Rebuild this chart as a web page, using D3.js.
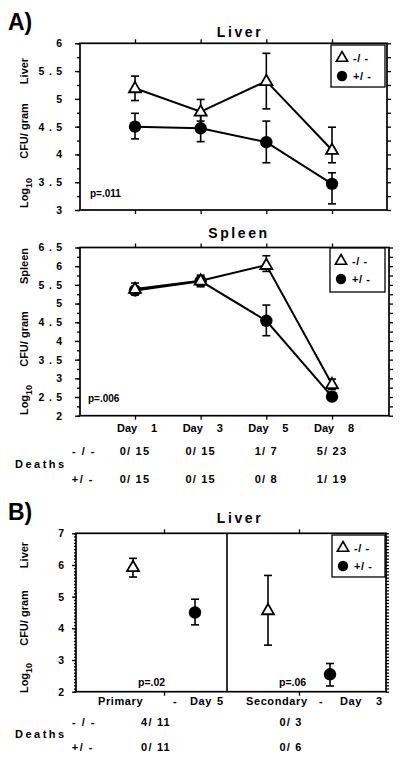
<!DOCTYPE html>
<html><head><meta charset="utf-8">
<script src="https://cdn.jsdelivr.net/npm/d3@7"></script>
<style>
body{margin:0;background:#fff;}
svg text{font-family:"Liberation Sans",Arial,sans-serif;font-weight:bold;fill:#000;}
</style></head><body>
<svg id="c" width="400" height="761"></svg>
<script>
// ---------- data ----------
const days = ["Day 1","Day 3","Day 5","Day 8"];
const dayWords = ["Day","Day","Day","Day"];
const dayNums = ["1","3","5","8"];

const liverKO      = [5.19, 4.77, 5.32, 4.08];
const liverKOLow   = [4.97, 4.60, 4.82, 3.85];
const liverKOHigh  = [5.41, 4.99, 5.82, 4.49];
const liverHet     = [4.50, 4.47, 4.22, 3.47];
const liverHetLow  = [4.28, 4.23, 3.85, 3.11];
const liverHetHigh = [4.74, 4.71, 4.60, 3.67];

const spleenKO      = [5.39, 5.61, 6.03, 2.84];
const spleenKOLow   = [5.23, 5.45, 5.86, 2.70];
const spleenKOHigh  = [5.55, 5.76, 6.28, 2.98];
const spleenHet     = [5.35, 5.60, 4.54, 2.51];
const spleenHetLow  = [5.26, 5.50, 4.14, 2.42];
const spleenHetHigh = [5.45, 5.70, 4.96, 2.62];

const deathsKO  = ["0/ 15","0/ 15","1/ 7","5/ 23"];
const deathsHet = ["0/ 15","0/ 15","0/ 8","1/ 19"];

const infGroups = ["Primary","Secondary"];
const infGroupLabels = [["Primary","-","Day","5"],["Secondary","-","Day","3"]];
const infKO      = [5.93, 4.57];
const infKOLow   = [5.62, 3.47];
const infKOHigh  = [6.21, 5.67];
const infHet     = [4.50, 2.55];
const infHetLow  = [4.11, 2.18];
const infHetHigh = [4.92, 2.89];
const infDeathsKO  = ["4/ 11","0/ 3"];
const infDeathsHet = ["0/ 11","0/ 6"];
const infP = ["p=.02","p=.06"];

const genotypes = ["-/ -","+/ -"];
const rowLabels = ["- / -","+/ -"];

const liverTicks  = [3,3.5,4,4.5,5,5.5,6];
const spleenTicks = [2,2.5,3,3.5,4,4.5,5,5.5,6,6.5];
const infTicks    = [2,3,4,5,6,7];

// ---------- drawing ----------
const svg = d3.select("#c");
const fmt = d => String(d).split("").join(" ");

function axes(p){
  const g = svg.append("g");
  const y = p.y;
  const la = g.append("g").attr("transform",`translate(${p.left},0)`)
    .call(d3.axisLeft(y).tickValues(p.ticks).tickFormat(fmt).tickSize(p.majLen).tickSizeOuter(0).tickPadding(p.pad));
  la.selectAll("text").attr("font-family",null).attr("font-size",null)
    .style("font-size","10.5px").style("letter-spacing","0.8px").style("white-space","pre");
  g.append("g").attr("transform",`translate(${p.left},0)`)
    .call(d3.axisLeft(y).tickValues(d3.range(p.domain[0],p.domain[1]+1e-6,p.minor)).tickFormat("").tickSize(p.minLen).tickSizeOuter(0));
  g.append("g").attr("transform",`translate(${p.right},0)`)
    .call(d3.axisRight(y).tickValues(d3.range(p.domain[0],p.domain[1]+1e-6,p.rminor)).tickFormat("").tickSize(p.rLen).tickSizeOuter(0));
  g.append("g").attr("transform",`translate(0,${p.top})`)
    .call(d3.axisTop(p.xt).tickFormat("").tickSize(4).tickSizeOuter(0));
  g.append("g").attr("transform",`translate(0,${p.bottom})`)
    .call(d3.axisBottom(p.xt).tickFormat("").tickSize(4).tickSizeOuter(0));
  g.selectAll(".domain").remove();
  g.selectAll(".tick line").attr("stroke","#000").attr("stroke-width",1.3);
  g.append("rect").attr("x",p.left).attr("y",p.top).attr("width",p.right-p.left).attr("height",p.bottom-p.top)
    .attr("fill","none").attr("stroke","#000").attr("stroke-width",1.7);
}

function errbars(g, xs, lo, hi, y){
  const cap = 4;
  xs.forEach((x,i)=>{
    g.append("line").attr("x1",x).attr("x2",x).attr("y1",y(lo[i])).attr("y2",y(hi[i]));
    g.append("line").attr("x1",x-cap).attr("x2",x+cap).attr("y1",y(lo[i])).attr("y2",y(lo[i]));
    g.append("line").attr("x1",x-cap).attr("x2",x+cap).attr("y1",y(hi[i])).attr("y2",y(hi[i]));
  });
  g.selectAll("line").attr("stroke","#000").attr("stroke-width",1.6);
}

const tri = d3.symbol(d3.symbolTriangle, 62)();
const triSmall = d3.symbol(d3.symbolTriangle, 55)();

function markers(g, xs, ko, het, y){
  xs.het.forEach((x,i)=> g.append("circle").attr("cx",x).attr("cy",y(het[i])).attr("r",6.2).attr("fill","#000"));
  xs.ko.forEach((x,i)=> g.append("path").attr("d",tri).attr("transform",`translate(${x},${y(ko[i])+0.5})`)
    .attr("fill","#fff").attr("stroke","#000").attr("stroke-width",1.8));
}

function legend(x0,y0,w,h){
  const g = svg.append("g");
  g.append("rect").attr("x",x0).attr("y",y0).attr("width",w).attr("height",h).attr("fill","#fff").attr("stroke","#000").attr("stroke-width",1.3);
  g.append("path").attr("d",triSmall).attr("transform",`translate(${x0+11},${y0+13})`).attr("fill","#fff").attr("stroke","#000").attr("stroke-width",1.6);
  g.append("circle").attr("cx",x0+11).attr("cy",y0+31).attr("r",5.2).attr("fill","#000");
  genotypes.forEach((t,i)=> g.append("text").attr("x",x0+22).attr("y",y0+17+i*18).style("font-size","11px").style("letter-spacing","0.6px").text(t));
}

function ylabel(x, parts){
  parts.forEach(([t,cy])=>{
    const tx = svg.append("text").attr("transform",`translate(${x},${cy}) rotate(-90)`).attr("text-anchor","middle").style("font-size","11px");
    if(t==="Log10"){
      tx.append("tspan").text("Log");
      tx.append("tspan").attr("dy",4).style("font-size","9px").text("10");
    } else tx.text(t);
  });
}

function title(x,y,t){
  svg.append("text").attr("x",x).attr("y",y).attr("text-anchor","middle").style("font-size","14px").style("letter-spacing","2.6px").text(t);
}

svg.append("text").attr("x",8).attr("y",30).style("font-size","23px").text("A)");
svg.append("text").attr("x",8).attr("y",520).style("font-size","23px").text("B)");

const xDay = d3.scalePoint().domain(days).range([135,332]);

// ---- Liver (A top) ----
{
  const y = d3.scaleLinear().domain([3,6]).range([210,43.3]);
  axes({y, left:80, right:387, top:43.3, bottom:210, ticks:liverTicks, domain:[3,6], minor:0.25, rminor:0.25,
        majLen:5, minLen:3, rLen:4, pad:12, xt:xDay});
  const g = svg.append("g");
  const line = d3.line().x((d,i)=>xDay(days[i])).y(d=>y(d));
  g.append("path").attr("d",line(liverKO)).attr("fill","none").attr("stroke","#000").attr("stroke-width",2);
  g.append("path").attr("d",line(liverHet)).attr("fill","none").attr("stroke","#000").attr("stroke-width",2);
  const xs = days.map(d=>xDay(d));
  errbars(g.append("g"), xs, liverKOLow, liverKOHigh, y);
  errbars(g.append("g"), xs, liverHetLow, liverHetHigh, y);
  markers(g, {ko:xs, het:xs}, liverKO, liverHet, y);
  legend(331,45,54,42);
  svg.append("text").attr("x",90).attr("y",197).style("font-size","10px").text("p=.011");
  title(240,37,"Liver");
  ylabel(28, [["Liver",71],["CFU/ gram",131],["Log10",193]]);
}

// ---- Spleen (A bottom) ----
{
  const y = d3.scaleLinear().domain([2,6.5]).range([415.7,247.5]);
  axes({y, left:80, right:389, top:247.5, bottom:415.7, ticks:spleenTicks, domain:[2,6.5], minor:0.25, rminor:0.25,
        majLen:5, minLen:3, rLen:4, pad:12, xt:xDay});
  const g = svg.append("g");
  const line = d3.line().x((d,i)=>xDay(days[i])).y(d=>y(d));
  g.append("path").attr("d",line(spleenKO)).attr("fill","none").attr("stroke","#000").attr("stroke-width",2);
  g.append("path").attr("d",line(spleenHet)).attr("fill","none").attr("stroke","#000").attr("stroke-width",2);
  const xs = days.map(d=>xDay(d));
  errbars(g.append("g"), xs, spleenKOLow, spleenKOHigh, y);
  errbars(g.append("g"), xs, spleenHetLow, spleenHetHigh, y);
  markers(g, {ko:xs, het:xs}, spleenKO, spleenHet, y);
  legend(330,248,55,44);
  svg.append("text").attr("x",88).attr("y",402).style("font-size","10px").text("p=.006");
  title(239,238,"Spleen");
  ylabel(28, [["Spleen",266],["CFU/ gram",339],["Log10",400]]);

  days.forEach((d,i)=>{
    svg.append("text").attr("x",xDay(d)-18).attr("y",432).style("font-size","11px").text(dayWords[i]);
    svg.append("text").attr("x",xDay(d)+16).attr("y",432).style("font-size","11px").text(dayNums[i]);
    svg.append("text").attr("x",xDay(d)).attr("y",455).attr("text-anchor","middle").style("font-size","11px").style("letter-spacing","1.2px").text(deathsKO[i]);
    svg.append("text").attr("x",xDay(d)).attr("y",483).attr("text-anchor","middle").style("font-size","11px").style("letter-spacing","1.2px").text(deathsHet[i]);
  });
  svg.append("text").attr("x",96).attr("y",455).attr("text-anchor","end").style("font-size","11px").style("letter-spacing","1.5px").text(rowLabels[0]);
  svg.append("text").attr("x",94).attr("y",483).attr("text-anchor","end").style("font-size","11px").style("letter-spacing","1.5px").text(rowLabels[1]);
  svg.append("text").attr("x",15).attr("y",468).style("font-size","11px").style("letter-spacing","2.5px").text("Deaths");
}

// ---- Panel B ----
{
  const y = d3.scaleLinear().domain([2,7]).range([691.7,533.3]);
  const xg = d3.scalePoint().domain(infGroups).range([164,299]);
  const xsub = d3.scalePoint().domain(genotypes).range([-31,31]);
  axes({y, left:76, right:386, top:533.3, bottom:691.7, ticks:infTicks, domain:[2,7], minor:0.1, rminor:0.1,
        majLen:4, minLen:2, rLen:3, pad:7, xt:xg});
  const g = svg.append("g");
  const xk = infGroups.map(d=>xg(d)+xsub(genotypes[0]));
  const xh = infGroups.map(d=>xg(d)+xsub(genotypes[1]));
  svg.append("line").attr("x1",227).attr("x2",227).attr("y1",533.3).attr("y2",691.7).attr("stroke","#000").attr("stroke-width",1.6);
  errbars(g.append("g"), xk, infKOLow, infKOHigh, y);
  errbars(g.append("g"), xh, infHetLow, infHetHigh, y);
  markers(g, {ko:xk, het:xh}, infKO, infHet, y);
  legend(332,535,53,42);
  svg.append("text").attr("x",138).attr("y",686).style("font-size","10.5px").text(infP[0]);
  svg.append("text").attr("x",279).attr("y",686).style("font-size","10.5px").text(infP[1]);
  title(240,523,"Liver");
  ylabel(28, [["Liver",555],["CFU/ gram",618],["Log10",678]]);

  const wordDx = [[-66,9,26,53],[-53,20,41,77]];
  infGroups.forEach((grp,i)=>{
    infGroupLabels[i].forEach((w,j)=>{
      svg.append("text").attr("x",xg(grp)+wordDx[i][j]).attr("y",705).style("font-size","11px").style("letter-spacing","0.6px").text(w);
    });
    svg.append("text").attr("x",xg(grp)-8).attr("y",726).attr("text-anchor","middle").style("font-size","11px").style("letter-spacing","1.2px").text(infDeathsKO[i]);
    svg.append("text").attr("x",xg(grp)-8).attr("y",751).attr("text-anchor","middle").style("font-size","11px").style("letter-spacing","1.2px").text(infDeathsHet[i]);
  });
  svg.append("text").attr("x",96).attr("y",726).attr("text-anchor","end").style("font-size","11px").style("letter-spacing","1.5px").text(rowLabels[0]);
  svg.append("text").attr("x",94).attr("y",751).attr("text-anchor","end").style("font-size","11px").style("letter-spacing","1.5px").text(rowLabels[1]);
  svg.append("text").attr("x",15).attr("y",738).style("font-size","11px").style("letter-spacing","2.5px").text("Deaths");
}
</script>
</body></html>
